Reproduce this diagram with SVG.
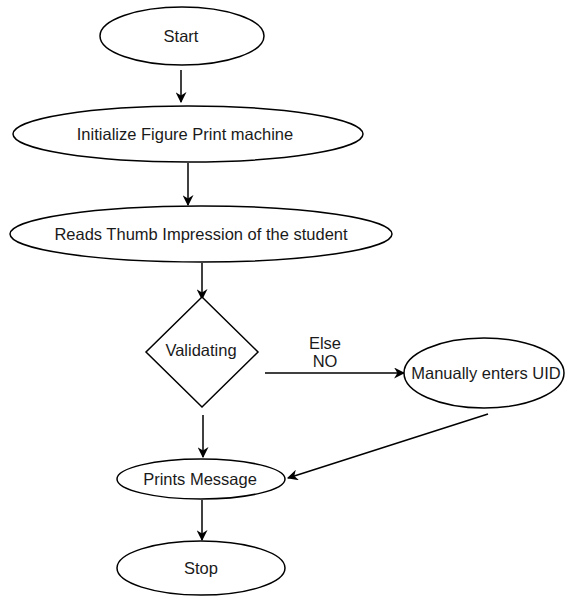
<svg xmlns="http://www.w3.org/2000/svg" width="565" height="596" viewBox="0 0 565 596">
<defs>
<marker id="ah" viewBox="0 0 10 10" refX="9" refY="5" markerWidth="11" markerHeight="11" markerUnits="userSpaceOnUse" orient="auto">
<path d="M0,0 L10,5 L0,10 L3,5 Z" fill="#000"/>
</marker>
<style>
.n{fill:#fff;stroke:#000;stroke-width:1.5}
.t{font-family:"Liberation Sans",Arial,sans-serif;font-size:16.5px;fill:#1a1a1a;text-anchor:middle;dominant-baseline:central}
.c{stroke:#000;stroke-width:1.5;fill:none;marker-end:url(#ah)}
</style>
</defs>
<rect width="565" height="596" fill="#fff"/>
<g id="connectors">
<line class="c" x1="181" y1="70" x2="181" y2="102"/>
<line class="c" x1="188" y1="163" x2="188" y2="205"/>
<line class="c" x1="202" y1="263" x2="202" y2="299"/>
<line class="c" x1="265" y1="373" x2="404" y2="373"/>
<line class="c" x1="203" y1="415" x2="203" y2="457"/>
<line class="c" x1="488" y1="414" x2="288" y2="478"/>
<line class="c" x1="202" y1="500" x2="202" y2="540"/>
</g>
<g id="start"><ellipse class="n" cx="182" cy="36" rx="82" ry="29"/><text class="t" x="181" y="36">Start</text></g>
<g id="init"><ellipse class="n" cx="188" cy="134" rx="175" ry="28"/><text class="t" x="185" y="134">Initialize Figure Print machine</text></g>
<g id="reads"><ellipse class="n" cx="201" cy="234" rx="191" ry="28"/><text class="t" x="201" y="234">Reads Thumb Impression of the student</text></g>
<g id="validating"><polygon class="n" points="202,297 258,352 202,407 146,352"/><text class="t" x="201" y="350">Validating</text></g>
<g id="label"><text class="t" x="325" y="343">Else</text><text class="t" x="325" y="361">NO</text></g>
<g id="manual"><ellipse class="n" cx="484" cy="373" rx="80" ry="35"/><text class="t" x="486" y="373">Manually enters UID</text></g>
<g id="prints"><ellipse class="n" cx="201" cy="479" rx="84" ry="20"/><text class="t" x="200" y="479">Prints Message</text></g>
<g id="stop"><ellipse class="n" cx="201" cy="568" rx="84" ry="27"/><text class="t" x="201" y="568">Stop</text></g>
</svg>
